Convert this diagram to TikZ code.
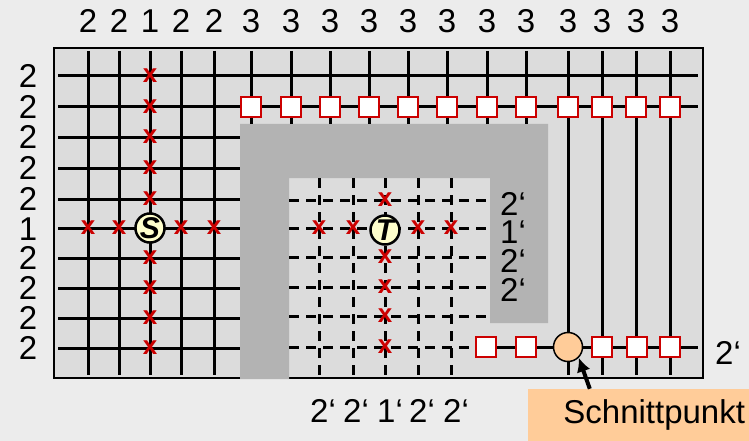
\documentclass[tikz,border=0pt]{standalone}
\usepackage{fontspec}
\setmainfont{Liberation Sans}
\usetikzlibrary{arrows.meta}
\definecolor{page}{HTML}{ECECEC}
\definecolor{cell}{HTML}{DCDCDC}
\definecolor{wall}{HTML}{B3B3B3}
\definecolor{hit}{HTML}{CC0000}
\definecolor{start}{HTML}{FFFFCC}
\definecolor{cut}{HTML}{FFCC99}

\begin{document}
\begin{tikzpicture}[x=1pt,y=-1pt,>={Latex[length=14pt,width=14pt]},
  wire/.style={line width=3pt},
  dwire/.style={line width=3pt,dash pattern=on 10pt off 7pt},
  cost/.style={font=\fontsize{33}{33}\selectfont,inner sep=0pt,text height=23pt,text depth=0pt},
  hitx/.style={text=hit,font=\bfseries\fontsize{26}{26}\selectfont,inner sep=0pt},
  sqbox/.style={draw=hit,fill=white,line width=2pt,minimum size=20pt,inner sep=0pt},
  term/.style={circle,draw,fill=start,line width=2.5pt,minimum size=29pt,inner sep=0pt,font=\bfseries\itshape\fontsize{30}{30}\selectfont}]
\fill[page] (0,0) rectangle (749,441);
\useasboundingbox (0,0) rectangle (749,441);
\filldraw[fill=cell,line width=2pt] (54,48) rectangle (703,378);
\fill[wall] (240,379)--(240,124)--(548,124)--(548,323)--(490,323)--(490,178)--(289,178)--(289,379)--cycle;
% solid grid
\foreach \y in {76,107} \draw[wire] (58,\y) -- (698,\y);
\foreach \y in {137,168,199,228,258,288,318,348} \draw[wire] (58,\y) -- (240,\y);
\foreach \x in {88,119,150,181,214,568,602,636,670} \draw[wire] (\x,51) -- (\x,375);
\foreach \x in {251,291,330,369,408,447,487,526} \draw[wire] (\x,51) -- (\x,124);
% dashed grid behind the wall
\foreach \y in {200,228,257,287,316,347} \draw[dwire] (289,\y) -- (488,\y);
\foreach \x in {319,353,385,418,451} \draw[dwire] (\x,178) -- (\x,378);
\draw[wire] (488,347) -- (698,347);
% costs
\foreach \x/\c in {88/2,119/2,150/1,181/2,214/2,251/3,291/3,330/3,369/3,408/3,447/3,487/3,526/3,568/3,602/3,636/3,670/3}
  \node[cost] (top\x) at (\x,21) {\c};
\foreach \y/\c in {76/2,107/2,137/2,168/2,199/2,229/1,258/2,288/2,318/2,348/2}
  \node[cost] (left\y) at (28,\y) {\c};
\foreach \y/\c in {204/2,232/1,261/2,290/2}
  \node[cost] (right\y) at (513,\y) {\c‘};
\foreach \x/\c in {323/2,356/2,390/1,422/2,456/2}
  \node[cost] (bot\x) at (\x,411) {\c‘};
\node[cost] (last) at (728,353) {2‘};
% expanded cells
\foreach \y in {76,107,137,168,199,258,288,318,348} \node[hitx] (sv\y) at (150,\y) {x};
\foreach \x in {88,119,181,214} \node[hitx] (sh\x) at (\x,228) {x};
\foreach \y in {200,257,287,316,347} \node[hitx] (tv\y) at (385,\y) {x};
\foreach \x in {319,353,418,451} \node[hitx] (th\x) at (\x,228) {x};
\node[term] (S) at (150,228) {S};
\node[term] (T) at (385,230) {T};
% wave front
\foreach \x in {251,291,330,369,408,447,487,526,568,602,636,670} \node[sqbox] (q\x) at (\x,107) {};
\foreach \x in {486,526,602,637,670} \node[sqbox] (p\x) at (\x,347) {};
\node[circle,draw,fill=cut,line width=1.5pt,minimum size=29pt,inner sep=0pt] (meet) at (568,347) {};
\node[fill=cut,minimum width=221pt,minimum height=52pt,text width=213pt,inner xsep=4pt,align=right,font=\fontsize{33}{33}\selectfont] (lab) at (638.5,415) {Schnittpunkt};
\draw[->,line width=4pt] ([xshift=62pt]lab.north west) -- (meet.south east);
\end{tikzpicture}
\end{document}
